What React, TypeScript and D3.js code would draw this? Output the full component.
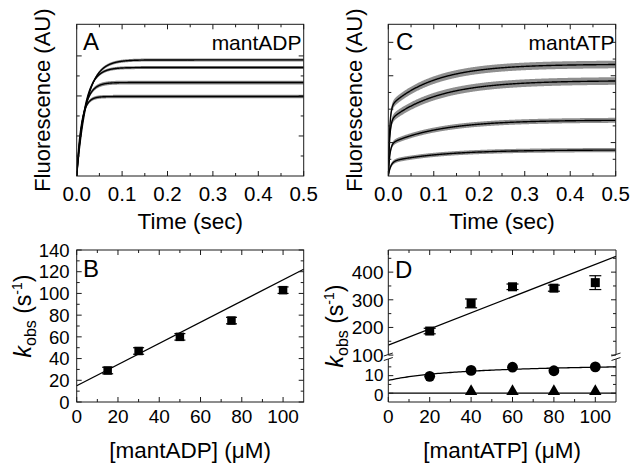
import React from 'react';
import * as d3 from 'd3';

const FONT = '"Liberation Sans", Arial, Helvetica, sans-serif';

// ---------- Panel A: mantADP transients (single-exponential fits) ----------
const adpPlateau = [5.8, 5.42, 4.67, 3.97];
const adpRate = [45, 55, 70, 100];
const adpNoise = [1.5, 1.5, 1.9, 1.7];

// ---------- Panel C: mantATP transients (double-exponential fits) ----------
const atpFastAmp = [4.1, 3.3, 1.9, 0.85];
const atpFastRate = [350, 340, 290, 190];
const atpSlowAmp = [2.59, 2.41, 1.45, 0.71];
const atpSlowRate = [10, 9.2, 8.8, 8.7];
const atpNoise = [3.8, 3.8, 2.5, 2.1];

const timeTicks = [0, 0.1, 0.2, 0.3, 0.4, 0.5];
const timeMinor = [0.05, 0.15, 0.25, 0.35, 0.45];

// ---------- Panel B: kobs vs [mantADP] ----------
const adpConc = [15, 30, 50, 75, 100];
const adpKobs = [29, 47, 60, 75, 103];
const adpErr = [3, 3, 3, 3, 3];
const adpFitIntercept = 15;
const adpFitSlope = 0.975;
const bYTicks = [0, 20, 40, 60, 80, 100, 120, 140];
const bYMinor = [10, 30, 50, 70, 90, 110, 130];
const concTicks = [0, 20, 40, 60, 80, 100];
const concMinor = [10, 30, 50, 70, 90];

// ---------- Panel D: kobs vs [mantATP] ----------
const atpConc = [20, 40, 60, 80, 100];
const atpFastKobs = [187, 287, 347, 342, 362];
const atpFastErr = [10, 16, 10, 11, 25];
const atpSlowKobs = [9.6, 13.0, 14.8, 12.8, 15.0];
const atpTriConc = [40, 60, 80, 100];
const atpTriKobs = [1.0, 1.0, 1.0, 1.0];
const dFastIntercept = 136;
const dFastSlope = 2.92;
const dSlowK0 = 7.3;
const dSlowAmp = 10.5;
const dSlowKd = 40;
const dTriFit = 0;
const dUpperTicks = [100, 200, 300, 400];
const dUpperMinor = [150, 250, 350, 450];
const dLowerTicks = [0, 10];
const dLowerMinor = [5, 15];

// ---------- layout ----------
const PA = { l: 76.7, r: 303.7, t: 24.3, b: 176 };
const PC = { l: 388.3, r: 615.7, t: 24.3, b: 176 };
const PB = { l: 76.7, r: 303.7, t: 250, b: 402 };
const PD = { l: 388.3, r: 616, t: 250, b: 402 };
const INK = '#1a1a1a';
const MAJ = 5;
const MIN = 3;

type Box = { l: number; r: number; t: number; b: number };

function tickMarks(box: Box, xMaj: number[], xMin: number[], yMaj: number[], yMin: number[], key: string) {
  const out: JSX.Element[] = [];
  const add = (x1: number, y1: number, x2: number, y2: number, k: string) =>
    out.push(<line key={key + k} x1={x1} y1={y1} x2={x2} y2={y2} stroke={INK} strokeWidth={1} />);
  xMaj.forEach((x, i) => { add(x, box.b, x, box.b - MAJ, 'xb' + i); add(x, box.t, x, box.t + MAJ, 'xt' + i); });
  xMin.forEach((x, i) => { add(x, box.b, x, box.b - MIN, 'xbm' + i); add(x, box.t, x, box.t + MIN, 'xtm' + i); });
  yMaj.forEach((y, i) => { add(box.l, y, box.l + MAJ, y, 'yl' + i); add(box.r, y, box.r - MAJ, y, 'yr' + i); });
  yMin.forEach((y, i) => { add(box.l, y, box.l + MIN, y, 'ylm' + i); add(box.r, y, box.r - MIN, y, 'yrm' + i); });
  return out;
}

const tA = d3.range(0, 0.5001, 0.0005);
const tC = d3.range(0, 0.02, 0.0001).concat(d3.range(0.02, 0.5001, 0.001));

function PanelA() {
  const x = d3.scaleLinear().domain([0, 0.5]).range([PA.l, PA.r]);
  const y = d3.scaleLinear().domain([0, 7.58]).range([PA.b, PA.t]);
  return (
    <g>
      <defs>
        <clipPath id="clipA"><rect x={PA.l} y={PA.t} width={PA.r - PA.l} height={PA.b - PA.t} /></clipPath>
      </defs>
      <g clipPath="url(#clipA)">
        {adpPlateau.map((P, i) => {
          const f = (t: number) => P * (1 - Math.exp(-adpRate[i] * t));
          const area = d3.area<number>().x(t => x(t)).y0(t => y(f(t)) + adpNoise[i]).y1(t => y(f(t)) - adpNoise[i]);
          return <path key={'na' + i} d={area(tA) || ''} fill="#8a8a8a" />;
        })}
        {adpPlateau.map((P, i) => {
          const f = (t: number) => P * (1 - Math.exp(-adpRate[i] * t));
          const line = d3.line<number>().x(t => x(t)).y(t => y(f(t)));
          return <path key={'la' + i} d={line(tA) || ''} fill="none" stroke="#000" strokeWidth={1.4} />;
        })}
      </g>
      <rect x={PA.l} y={PA.t} width={PA.r - PA.l} height={PA.b - PA.t} fill="none" stroke={INK} strokeWidth={1} />
      {tickMarks(PA, timeTicks.map(x), timeMinor.map(x), [2, 4, 6].map(y), [1, 3, 5].map(y), 'A')}
      {timeTicks.map(v => (
        <text key={'ta' + v} x={x(v)} y={201} textAnchor="middle" fontSize={20.5}>{v.toFixed(1)}</text>
      ))}
      <text x={(PA.l + PA.r) / 2} y={229} textAnchor="middle" fontSize={22.5}>Time (sec)</text>
      <text transform={`translate(50,${(PA.t + PA.b) / 2}) rotate(-90)`} textAnchor="middle" fontSize={22}>Fluorescence (AU)</text>
      <text x={83} y={50} fontSize={24}>A</text>
      <text x={301.5} y={50} textAnchor="end" fontSize={21}>mantADP</text>
    </g>
  );
}

function PanelC() {
  const x = d3.scaleLinear().domain([0, 0.5]).range([PC.l, PC.r]);
  const y = d3.scaleLinear().domain([0, 9.08]).range([PC.b, PC.t]);
  const fn = (i: number) => (t: number) =>
    atpFastAmp[i] * (1 - Math.exp(-atpFastRate[i] * t)) + atpSlowAmp[i] * (1 - Math.exp(-atpSlowRate[i] * t));
  return (
    <g>
      <defs>
        <clipPath id="clipC"><rect x={PC.l} y={PC.t} width={PC.r - PC.l} height={PC.b - PC.t} /></clipPath>
      </defs>
      <g clipPath="url(#clipC)">
        {atpFastAmp.map((_, i) => {
          const f = fn(i);
          const area = d3.area<number>().x(t => x(t)).y0(t => y(f(t)) + atpNoise[i]).y1(t => y(f(t)) - atpNoise[i]);
          return <path key={'nc' + i} d={area(tC) || ''} fill="#8f8f8f" />;
        })}
        {atpFastAmp.map((_, i) => {
          const f = fn(i);
          const line = d3.line<number>().x(t => x(t)).y(t => y(f(t)));
          return <path key={'lc' + i} d={line(tC) || ''} fill="none" stroke="#000" strokeWidth={1.4} />;
        })}
      </g>
      <rect x={PC.l} y={PC.t} width={PC.r - PC.l} height={PC.b - PC.t} fill="none" stroke={INK} strokeWidth={1} />
      {tickMarks(PC, timeTicks.map(x), timeMinor.map(x), [2, 4, 6, 8].map(y), [1, 3, 5, 7].map(y), 'C')}
      {timeTicks.map(v => (
        <text key={'tc' + v} x={x(v)} y={201} textAnchor="middle" fontSize={20.5}>{v.toFixed(1)}</text>
      ))}
      <text x={(PC.l + PC.r) / 2} y={229} textAnchor="middle" fontSize={22.5}>Time (sec)</text>
      <text transform={`translate(362,${(PC.t + PC.b) / 2}) rotate(-90)`} textAnchor="middle" fontSize={22}>Fluorescence (AU)</text>
      <text x={396} y={50} fontSize={24}>C</text>
      <text x={614.5} y={50} textAnchor="end" fontSize={21}>mantATP</text>
    </g>
  );
}

function KobsLabel({ x, cy }: { x: number; cy: number }) {
  return (
    <text transform={`translate(${x},${cy}) rotate(-90)`} textAnchor="middle" fontSize={23}>
      <tspan fontStyle="italic">k</tspan>
      <tspan fontSize={16} dy={5}>obs</tspan>
      <tspan dy={-5}>{' (s'}</tspan>
      <tspan fontSize={14} dy={-9}>-1</tspan>
      <tspan dy={9}>)</tspan>
    </text>
  );
}

function PanelB() {
  const x = d3.scaleLinear().domain([0, 110]).range([PB.l, PB.r]);
  const y = d3.scaleLinear().domain([0, 140]).range([PB.b, PB.t]);
  const fit = d3.line<number>().x(c => x(c)).y(c => y(adpFitIntercept + adpFitSlope * c));
  const s = 8.5;
  return (
    <g>
      <path d={fit([0, 110]) || ''} stroke="#000" strokeWidth={1.3} fill="none" />
      {adpConc.map((c, i) => (
        <g key={'b' + i}>
          <line x1={x(c)} x2={x(c)} y1={y(adpKobs[i] - adpErr[i])} y2={y(adpKobs[i] + adpErr[i])} stroke="#000" strokeWidth={1.2} />
          <line x1={x(c) - 5.5} x2={x(c) + 5.5} y1={y(adpKobs[i] - adpErr[i])} y2={y(adpKobs[i] - adpErr[i])} stroke="#000" strokeWidth={1.2} />
          <line x1={x(c) - 5.5} x2={x(c) + 5.5} y1={y(adpKobs[i] + adpErr[i])} y2={y(adpKobs[i] + adpErr[i])} stroke="#000" strokeWidth={1.2} />
          <rect x={x(c) - s / 2} y={y(adpKobs[i]) - s / 2} width={s} height={s} fill="#000" />
        </g>
      ))}
      <rect x={PB.l} y={PB.t} width={PB.r - PB.l} height={PB.b - PB.t} fill="none" stroke={INK} strokeWidth={1} />
      {tickMarks(PB, concTicks.map(x), concMinor.map(x), bYTicks.map(y), bYMinor.map(y), 'B')}
      {bYTicks.map(v => (
        <text key={'by' + v} x={69.5} y={y(v)} dy="0.36em" textAnchor="end" fontSize={18.5}>{v}</text>
      ))}
      {concTicks.map(v => (
        <text key={'bx' + v} x={x(v)} y={423} textAnchor="middle" fontSize={19}>{v}</text>
      ))}
      <text x={(PB.l + PB.r) / 2} y={458} textAnchor="middle" fontSize={22.5}>[mantADP] (μM)</text>
      <KobsLabel x={31} cy={316} />
      <text x={83} y={277} fontSize={24}>B</text>
    </g>
  );
}

function PanelD() {
  const x = d3.scaleLinear().domain([0, 110]).range([PD.l, PD.r]);
  const yU = d3.scaleLinear().domain([100, 480]).range([355.1, PD.t]);
  const yL = d3.scaleLinear().domain([-5, 20.5]).range([PD.b, 357.2]);
  const gapTop = 354.5;
  const gapBot = 359.0;
  const fastFit = d3.line<number>().x(c => x(c)).y(c => yU(dFastIntercept + dFastSlope * c));
  const slowFit = d3.line<number>().x(c => x(c)).y(c => yL(dSlowK0 + (dSlowAmp * c) / (dSlowKd + c)));
  const cs = d3.range(0, 110.01, 1);
  const s = 9;
  const tri = d3.symbol().type(d3.symbolTriangle).size(66);
  const brk = (bx: number, k: string) => (
    <g key={k}>
      <line x1={bx} y1={PD.t} x2={bx} y2={gapTop} stroke={INK} strokeWidth={1} />
      <line x1={bx} y1={gapBot} x2={bx} y2={PD.b} stroke={INK} strokeWidth={1} />
      <line x1={bx - 4.5} y1={gapTop + 1.5} x2={bx + 4.5} y2={gapTop - 1.5} stroke={INK} strokeWidth={1} />
      <line x1={bx - 4.5} y1={gapBot + 1.5} x2={bx + 4.5} y2={gapBot - 1.5} stroke={INK} strokeWidth={1} />
    </g>
  );
  return (
    <g>
      <defs>
        <clipPath id="clipDU"><rect x={PD.l} y={PD.t} width={PD.r - PD.l} height={gapTop - PD.t} /></clipPath>
        <clipPath id="clipDL"><rect x={PD.l} y={gapBot} width={PD.r - PD.l} height={PD.b - gapBot} /></clipPath>
      </defs>
      <g clipPath="url(#clipDU)">
        <path d={fastFit([0, 110]) || ''} stroke="#000" strokeWidth={1.3} fill="none" />
      </g>
      <g clipPath="url(#clipDL)">
        <path d={slowFit(cs) || ''} stroke="#000" strokeWidth={1.3} fill="none" />
        <line x1={PD.l} x2={PD.r} y1={yL(dTriFit)} y2={yL(dTriFit)} stroke="#000" strokeWidth={1.3} />
      </g>
      {atpConc.map((c, i) => (
        <g key={'dq' + i}>
          <line x1={x(c)} x2={x(c)} y1={yU(atpFastKobs[i] - atpFastErr[i])} y2={yU(atpFastKobs[i] + atpFastErr[i])} stroke="#000" strokeWidth={1.2} />
          <line x1={x(c) - 6} x2={x(c) + 6} y1={yU(atpFastKobs[i] - atpFastErr[i])} y2={yU(atpFastKobs[i] - atpFastErr[i])} stroke="#000" strokeWidth={1.2} />
          <line x1={x(c) - 6} x2={x(c) + 6} y1={yU(atpFastKobs[i] + atpFastErr[i])} y2={yU(atpFastKobs[i] + atpFastErr[i])} stroke="#000" strokeWidth={1.2} />
          <rect x={x(c) - s / 2} y={yU(atpFastKobs[i]) - s / 2} width={s} height={s} fill="#000" />
        </g>
      ))}
      {atpConc.map((c, i) => (
        <circle key={'dc' + i} cx={x(c)} cy={yL(atpSlowKobs[i])} r={5.4} fill="#000" />
      ))}
      {atpTriConc.map((c, i) => (
        <path key={'dt' + i} d={tri() || ''} transform={`translate(${x(c)},${yL(atpTriKobs[i])})`} fill="#000" />
      ))}
      <line x1={PD.l} x2={PD.r} y1={PD.t} y2={PD.t} stroke={INK} strokeWidth={1} />
      <line x1={PD.l} x2={PD.r} y1={PD.b} y2={PD.b} stroke={INK} strokeWidth={1} />
      {brk(PD.l, 'bl')}
      {brk(PD.r, 'br')}
      {tickMarks(PD, concTicks.map(x), concMinor.map(x),
        dUpperTicks.map(yU).concat(dLowerTicks.map(yL)),
        dUpperMinor.map(yU).concat(dLowerMinor.map(yL)), 'D')}
      {dUpperTicks.map(v => (
        <text key={'dyu' + v} x={383.5} y={yU(v)} dy="0.36em" textAnchor="end" fontSize={19}>{v}</text>
      ))}
      {dLowerTicks.map(v => (
        <text key={'dyl' + v} x={383.5} y={yL(v) + (v === 0 ? 1.2 : -1.2)} dy="0.36em" textAnchor="end" fontSize={17}>{v}</text>
      ))}
      {concTicks.map(v => (
        <text key={'dx' + v} x={x(v)} y={423} textAnchor="middle" fontSize={19}>{v}</text>
      ))}
      <text x={(PD.l + PD.r) / 2} y={458} textAnchor="middle" fontSize={22.5}>[mantATP] (μM)</text>
      <KobsLabel x={343} cy={326} />
      <text x={395} y={278} fontSize={24}>D</text>
    </g>
  );
}

export default function App() {
  return (
    <svg width={635} height={471} viewBox="0 0 635 471"
      style={{ position: 'absolute', left: 0, top: 0, background: '#fff' }}
      fontFamily={FONT} fill="#000">
      <rect x={0} y={0} width={635} height={471} fill="#fff" />
      <PanelA />
      <PanelC />
      <PanelB />
      <PanelD />
    </svg>
  );
}
